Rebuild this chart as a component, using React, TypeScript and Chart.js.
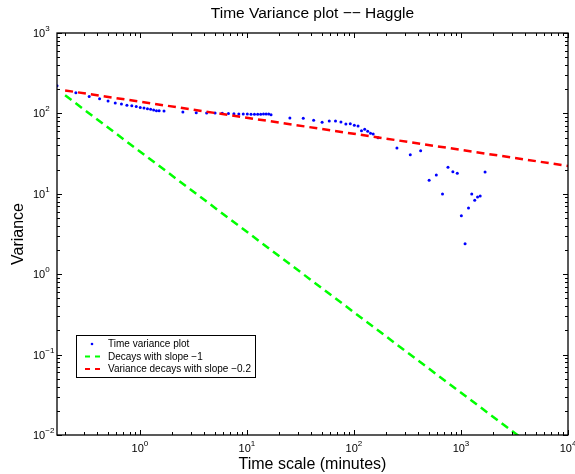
import React, { useEffect, useRef } from "react";
import { Chart, registerables } from "chart.js";

Chart.register(...registerables);

// Time scale (minutes) of each variance point
const timeScale = [
  0.168, 0.252, 0.336, 0.42, 0.504, 0.588, 0.672, 0.756, 0.84, 0.924, 1.008, 1.092, 1.176, 1.26, 1.344, 1.428, 1.512, 1.68,
  2.52, 3.36, 4.2, 5.04, 5.88, 6.72, 7.56, 8.4, 9.24, 10.08, 10.92, 11.76, 12.6, 13.44, 14.28, 15.12, 15.96, 16.8,
  25.2, 33.6, 42, 50.4, 58.8, 67.2, 75.6, 84, 92.4, 100.8, 109.2, 117.6, 126, 134.4, 142.8, 151.2, 168,
  252, 336, 420, 504, 588, 672, 756, 840, 924, 1008, 1092, 1176, 1260, 1344, 1428, 1512, 1680,
];
// Variance values
const variance = [
  221, 181, 162, 152, 143, 135, 131, 126, 124.6, 122, 118, 116.7, 114, 112.4, 110.2, 108, 108, 107,
  104, 102, 101, 101, 100.2, 100, 99, 98.4, 98.4, 98.4, 97.7, 97.7, 97.7, 97.7, 98.4, 98.4, 98.4, 96.4,
  87.7, 86.9, 82, 77.5, 80.4, 80.4, 78.2, 73.8, 74.5, 71.1, 69.7, 61, 63.4, 59.9, 56.6, 55.5, 49.9,
  37.1, 30.6, 34.4, 14.7, 17.1, 9.95, 21.4, 18.8, 18.0, 5.35, 2.39, 6.66, 9.95, 8.3, 9.12, 9.4, 18.7,
];
// Reference slope lines
const slopeLineX = [0.2, 10000];
const slope1Y = [168, 0.00336];
const slope02Y = [193, 22.2];

const xRange = [0.168, 10000];
const yRange = [0.01, 1000];
const xTickExps = [0, 1, 2, 3, 4];
const yTickExps = [-2, -1, 0, 1, 2, 3];

const titleText = "Time Variance plot \u2212\u2212 Haggle";
const xTitle = "Time scale (minutes)";
const yTitle = "Variance";
const legendLabels = ["Time variance plot", "Decays with slope \u22121", "Variance decays with slope \u22120.2"];

const FONT = "'Liberation Sans', Arial, Helvetica, sans-serif";
const BLUE = "#0000ff";
const GREEN = "#00ff00";
const RED = "#ff0000";

function supText(exp: number) {
  return exp < 0 ? "\u2212" + Math.abs(exp) : String(exp);
}

const overlay = {
  id: "matlabOverlay",
  afterDraw(chart: any) {
    const ctx = chart.ctx as CanvasRenderingContext2D;
    const { left, right, top, bottom } = chart.chartArea;
    const xs = chart.scales.x;
    const ys = chart.scales.y;
    ctx.save();
    // axes box
    ctx.strokeStyle = "#000";
    ctx.lineWidth = 1.3;
    ctx.strokeRect(left, top, right - left, bottom - top);

    // ticks
    ctx.lineWidth = 1;
    const drawX = (v: number, len: number) => {
      const p = Math.round(xs.getPixelForValue(v)) + 0.5;
      if (p < left - 0.5 || p > right + 1) return;
      ctx.beginPath();
      ctx.moveTo(p, bottom);
      ctx.lineTo(p, bottom - len);
      ctx.moveTo(p, top);
      ctx.lineTo(p, top + len);
      ctx.stroke();
    };
    const drawY = (v: number, len: number) => {
      const p = Math.round(ys.getPixelForValue(v)) + 0.5;
      if (p < top - 1 || p > bottom + 1) return;
      ctx.beginPath();
      ctx.moveTo(left, p);
      ctx.lineTo(left + len, p);
      ctx.moveTo(right, p);
      ctx.lineTo(right - len, p);
      ctx.stroke();
    };
    for (let e = -1; e <= 4; e++) {
      for (let m = 1; m <= 9; m++) {
        const v = m * Math.pow(10, e);
        if (v < xRange[0] || v > xRange[1]) continue;
        drawX(v, m === 1 ? 5 : 3);
      }
    }
    for (let e = -2; e <= 3; e++) {
      for (let m = 1; m <= 9; m++) {
        const v = m * Math.pow(10, e);
        if (v < yRange[0] || v > yRange[1]) continue;
        drawY(v, m === 1 ? 5 : 3);
      }
    }

    // tick labels
    ctx.fillStyle = "#000";
    ctx.textBaseline = "alphabetic";
    ctx.textAlign = "left";
    const baseFont = `11px ${FONT}`;
    const supFont = `8px ${FONT}`;
    xTickExps.forEach((e) => {
      const p = xs.getPixelForValue(Math.pow(10, e));
      ctx.font = baseFont;
      const wb = ctx.measureText("10").width;
      ctx.font = supFont;
      const ws = ctx.measureText(supText(e)).width;
      const x0 = p - (wb + ws) / 2;
      ctx.font = baseFont;
      ctx.fillText("10", x0, 452);
      ctx.font = supFont;
      ctx.fillText(supText(e), x0 + wb, 446);
    });
    yTickExps.forEach((e) => {
      const p = ys.getPixelForValue(Math.pow(10, e));
      ctx.font = baseFont;
      const wb = ctx.measureText("10").width;
      const x0 = 33;
      ctx.fillText("10", x0, p + 4);
      ctx.font = supFont;
      ctx.fillText(supText(e), x0 + wb, p - 2);
    });

    // titles
    ctx.textAlign = "center";
    ctx.font = `15.5px ${FONT}`;
    ctx.fillText(titleText, (left + right) / 2, 18);
    ctx.font = `16px ${FONT}`;
    ctx.fillText(xTitle, (left + right) / 2, 469);
    ctx.save();
    ctx.translate(23, (top + bottom) / 2);
    ctx.rotate(-Math.PI / 2);
    ctx.fillText(yTitle, 0, 0);
    ctx.restore();

    // legend
    const lx = 76, ly = 335, lw = 179, lh = 42;
    ctx.fillStyle = "#fff";
    ctx.fillRect(lx, ly, lw, lh);
    ctx.strokeStyle = "#000";
    ctx.lineWidth = 1;
    ctx.strokeRect(lx + 0.5, ly + 0.5, lw, lh);
    const rows = [344, 356.5, 369];
    const colors = [BLUE, GREEN, RED];
    ctx.font = `10px ${FONT}`;
    ctx.textAlign = "left";
    ctx.textBaseline = "middle";
    rows.forEach((ry, i) => {
      if (i === 0) {
        ctx.fillStyle = BLUE;
        ctx.beginPath();
        ctx.arc(92, ry, 1.3, 0, Math.PI * 2);
        ctx.fill();
      } else {
        ctx.strokeStyle = colors[i];
        ctx.lineWidth = 2.2;
        ctx.setLineDash([5, 5]);
        ctx.beginPath();
        ctx.moveTo(85, ry);
        ctx.lineTo(100, ry);
        ctx.stroke();
        ctx.setLineDash([]);
      }
      ctx.fillStyle = "#000";
      ctx.fillText(legendLabels[i], 108, ry + 0.5);
    });
    ctx.restore();
  },
};

export default function App() {
  const ref = useRef<HTMLCanvasElement>(null);
  useEffect(() => {
    if (!ref.current) return;
    const chart = new Chart(ref.current, {
      type: "scatter",
      data: {
        datasets: [
          {
            label: legendLabels[0],
            data: timeScale.map((x, i) => ({ x, y: variance[i] })),
            backgroundColor: BLUE,
            borderColor: BLUE,
            pointRadius: 1.5,
            pointBorderWidth: 0,
            showLine: false,
            order: 2,
          },
          {
            label: legendLabels[1],
            data: slopeLineX.map((x, i) => ({ x, y: slope1Y[i] })),
            borderColor: GREEN,
            borderWidth: 2.5,
            borderDash: [8, 5],
            pointRadius: 0,
            showLine: true,
            order: 1,
          },
          {
            label: legendLabels[2],
            data: slopeLineX.map((x, i) => ({ x, y: slope02Y[i] })),
            borderColor: RED,
            borderWidth: 2.5,
            borderDash: [8, 5],
            pointRadius: 0,
            showLine: true,
            order: 0,
          },
        ],
      },
      options: {
        animation: false,
        responsive: false,
        devicePixelRatio: 1,
        layout: { padding: { left: 57, top: 33, right: 7, bottom: 39 } },
        plugins: { legend: { display: false }, tooltip: { enabled: false }, title: { display: false } },
        scales: {
          x: { type: "logarithmic", min: xRange[0], max: xRange[1], display: false },
          y: { type: "logarithmic", min: yRange[0], max: yRange[1], display: false },
        },
      },
      plugins: [overlay],
    });
    return () => chart.destroy();
  }, []);
  return (
    <div style={{ position: "absolute", left: 0, top: 0, width: 575, height: 474, background: "#fff" }}>
      <canvas ref={ref} width={575} height={474} style={{ width: 575, height: 474 }} />
    </div>
  );
}
